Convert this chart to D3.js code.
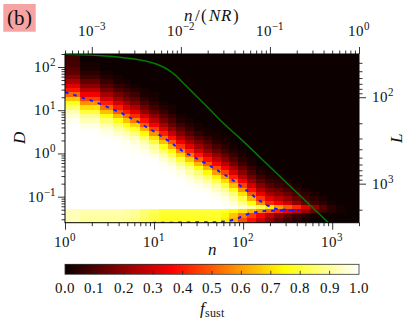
<!DOCTYPE html>
<html><head><meta charset="utf-8">
<script src="https://cdn.jsdelivr.net/npm/d3@7"></script>
<style>
@font-face{font-family:'PlotSerif';font-style:normal;src:local('Liberation Serif'),local('LiberationSerif'),local('LiberationSerif-Regular'),local('DejaVu Serif'),local('DejaVuSerif');}
@font-face{font-family:'PlotSerif';font-style:italic;src:local('Liberation Serif Italic'),local('LiberationSerif-Italic'),local('DejaVu Serif Italic'),local('DejaVuSerif-Italic');}
body{margin:0;background:#fff;}
svg text{font-family:'PlotSerif','Liberation Serif','Tinos','Times New Roman','DejaVu Serif',serif;fill:#111;}
</style></head><body>
<svg id="chart" width="416" height="333"></svg>
<script>
// ---------------- data ----------------
const nValues = [1,2,3,4,5,6,8,10,13,16,20,25,32,40,50,63,79,100,126,158,200,251,316,398,501,631,794,1000,1259,1585];
// D row centres (top to bottom)
const dRowCenters = [177.8,141.3,112.2,89.1,70.8,56.2,44.7,35.5,28.2,22.4,17.8,14.1,11.2,8.91,7.08,5.62,4.47,3.55,2.82,2.24,
  1.78,1.41,1.12,0.891,0.708,0.562,0.447,0.355,0.282,0.224,0.178,0.141,0.112,0.0891,0.0708,0.0562,0.0447,0.0355,0.0282];
// f_sust in percent, one array per n column, rows from top (large D) to bottom (small D)
const fSustByN = [
 [8,8,9,11,13,18,24,32,40,52, 66,78,86,92,96,98,100,100,100,100, 100,100,100,100,100,100,100,100,100,100, 100,100,100,100,100,100,93,93,93],
 [0,1,2,3,5,8,13,19,26,35, 46,58,70,81,89,93,97,99,100,100, 100,100,100,100,100,100,100,100,100,100, 100,100,100,100,100,100,92,91,90],
 [0,0,0,1,2,4,7,11,16,23, 31,41,53,65,77,86,92,96,98,99, 100,100,100,100,100,100,100,100,100,100, 100,100,100,100,100,100,92,91,90],
 [0,0,0,0,1,2,3,6,10,16, 22,30,40,51,64,76,86,91,95,98, 99,100,100,100,100,100,100,100,100,100, 100,100,100,100,100,100,92,91,90],
 [0,0,0,0,0,1,2,4,7,11, 16,23,31,41,53,65,77,86,92,96, 98,99,100,100,100,100,100,100,100,100, 100,100,100,100,100,100,91,90,89],
 [0,0,0,0,0,0,1,2,4,8, 12,17,24,33,43,55,68,79,87,93, 96,98,99,100,100,100,100,100,100,100, 100,100,100,100,100,100,90,89,88],
 [0,0,0,0,0,0,0,1,2,3, 6,10,15,21,29,39,50,63,75,85, 91,95,98,99,100,100,100,100,100,100, 100,100,100,100,100,100,86,85,84],
 [0,0,0,0,0,0,0,0,1,2, 3,5,8,13,19,26,35,46,58,70, 81,89,93,97,99,100,100,100,100,100, 100,100,100,100,100,100,83,82,81],
 [0,0,0,0,0,0,0,0,0,0, 1,2,4,7,11,16,23,31,41,53, 65,77,86,92,96,98,99,100,100,100, 100,100,100,100,100,100,80,79,78],
 [0,0,0,0,0,0,0,0,0,0, 0,1,2,3,6,10,14,20,28,38, 49,62,74,84,90,95,98,99,100,100, 100,100,100,100,100,100,80,79,78],
 [0,0,0,0,0,0,0,0,0,0, 0,0,0,1,2,4,8,12,18,25, 34,44,57,69,80,88,93,97,99,100, 100,100,100,100,100,100,80,79,78],
 [0,0,0,0,0,0,0,0,0,0, 0,0,0,0,1,2,4,7,11,17, 23,32,42,54,67,78,87,92,96,98, 99,100,100,100,100,100,80,79,78],
 [0,0,0,0,0,0,0,0,0,0, 0,0,0,0,0,1,2,3,6,10, 16,22,30,40,51,64,76,86,91,95, 98,99,100,100,100,100,80,79,78],
 [0,0,0,0,0,0,0,0,0,0, 0,0,0,0,0,0,1,2,3,6, 10,15,21,29,39,50,63,75,85,91, 95,98,99,100,100,100,80,79,78],
 [0,0,0,0,0,0,0,0,0,0, 0,0,0,0,0,0,0,1,2,3, 5,9,14,20,27,37,48,60,73,83, 90,94,97,99,100,100,80,79,78],
 [0,0,0,0,0,0,0,0,0,0, 0,0,0,0,0,0,0,0,1,2, 3,5,8,13,19,26,35,46,58,70, 81,89,93,97,99,100,78,74,72],
 [0,0,0,0,0,0,0,0,0,0, 0,0,0,0,0,0,0,0,0,0, 1,2,4,7,11,16,23,31,41,53, 65,77,86,92,96,98,74,66,62],
 [0,0,0,0,0,0,0,0,0,0, 0,0,0,0,0,0,0,0,0,0, 0,1,2,3,5,8,13,19,26,35, 46,58,70,81,89,95,70,55,48],
 [0,0,0,0,0,0,0,0,0,0, 0,0,0,0,0,0,0,0,0,0, 0,0,0,1,2,3,6,10,15,21, 29,39,50,63,75,90,64,45,38],
 [0,0,0,0,0,0,0,0,0,0, 0,0,0,0,0,0,0,0,0,0, 0,0,0,0,0,1,2,4,8,12, 18,25,34,44,57,82,58,36,28],
 [0,0,0,0,0,0,0,0,0,0, 0,0,0,0,0,0,0,0,0,0, 0,0,0,0,0,0,1,2,4,7, 11,17,23,32,42,72,50,27,20],
 [0,0,0,0,0,0,0,0,0,0, 0,0,0,0,0,0,0,0,0,0, 0,0,0,0,0,0,0,1,3,5, 8,13,19,26,36,60,42,19,13],
 [0,0,0,0,0,0,0,0,0,0, 0,0,0,0,0,0,0,0,0,0, 0,0,0,0,0,0,0,0,1,3, 5,9,14,20,28,50,36,12,8],
 [0,0,0,0,0,0,0,0,0,0, 0,0,0,0,0,0,0,0,0,0, 0,0,0,0,0,0,0,0,0,1, 3,5,9,14,20,42,30,7,5],
 [0,0,0,0,0,0,0,0,0,0, 0,0,0,0,0,0,0,0,0,0, 0,0,0,0,0,0,0,0,0,0, 1,3,5,8,13,32,22,4,3],
 [0,0,0,0,0,0,0,0,0,0, 0,0,0,0,0,0,0,0,0,0, 0,0,0,0,0,0,0,0,0,0, 0,1,3,5,8,20,14,2,1],
 [0,0,0,0,0,0,0,0,0,0, 0,0,0,0,0,0,0,0,0,0, 0,0,0,0,0,0,0,0,0,0, 0,0,1,3,5,11,8,1,0],
 [0,0,0,0,0,0,0,0,0,0, 0,0,0,0,0,0,0,0,0,0, 0,0,0,0,0,0,0,0,0,0, 0,0,0,1,2,5,4,0,0],
 [0,0,0,0,0,0,0,0,0,0, 0,0,0,0,0,0,0,0,0,0, 0,0,0,0,0,0,0,0,0,0, 0,0,0,0,0,2,2,0,0],
 [0,0,0,0,0,0,0,0,0,0, 0,0,0,0,0,0,0,0,0,0, 0,0,0,0,0,0,0,0,0,0, 0,0,0,0,0,1,1,0,0]
];
// green curve (n, D)
const greenN = [1,2.19,5.19,7.97,11.3,14.6,17.3,22.4,29,44.8,55,92.5,218,905];
const greenD = [197,187,159,138,111,85,65,38.3,22.5,9.2,5.93,2.23,0.413,0.025];
// blue dashed curve (n, D)
const blueN = [1,1.26,1.63,2.13,2.76,3.55,4.15,4.84,5.63,6.4,7.4,8.6,10.1,11.7,14.5,18.0,22.3,25.7,29.3,35.2,42.5,52.8,65.6,81.5,101,125,151,187,239,297,366,437,
               366,271,210,155,120,96.5,85,68,50.6,39,22.3,11.7,9];
const blueD = [26.2,22.7,19.0,15.9,12.8,10.2,9.0,7.5,6.4,5.6,4.7,3.8,3.2,2.6,1.96,1.42,1.03,0.91,0.79,0.64,0.515,0.394,0.301,0.219,0.158,0.113,0.082,0.0628,0.0515,0.0499,0.048,0.048,
               0.0478,0.048,0.0472,0.0455,0.0416,0.0348,0.0308,0.0271,0.0257,0.0257,0.0252,0.0249,0.0246];
const nDomain = [1, 2000];
const dDomain = [0.025, 200];
const NR = 2000;
const lDomain = [31.62, 2828];
const xMajor = [1,10,100,1000];
const dMajor = [0.1,1,10,100];
const topMajor = [1e-3,1e-2,1e-1,1];
const lMajor = [100,1000];
const cbTicks = [0,0.1,0.2,0.3,0.4,0.5,0.6,0.7,0.8,0.9,1.0];

// ---------------- layout ----------------
const svg = d3.select('#chart');
const P = {l:65, r:359, t:54, b:222.7};
const x = d3.scaleLog().domain(nDomain).range([P.l, P.r]);
const y = d3.scaleLog().domain(dDomain).range([P.b, P.t]);
const xTop = d3.scaleLog().domain([nDomain[0]/NR, nDomain[1]/NR]).range([P.l, P.r]);
const yR = d3.scaleLog().domain(lDomain).range([P.t, P.b]);

function hot(f){
  const r = Math.min(1, 0.0416 + f*(1-0.0416)/0.365079);
  const g = Math.max(0, Math.min(1, (f-0.365079)/(0.746032-0.365079)));
  const b = Math.max(0, Math.min(1, (f-0.746032)/(1-0.746032)));
  return d3.rgb(r*255, g*255, b*255).toString();
}
function minorsFor(domain){
  const out=[];
  for(let e=-6;e<=6;e++){for(let m=2;m<=9;m++){const v=m*Math.pow(10,e);
    if(v>=domain[0]*0.999 && v<=domain[1]*1.001) out.push(v);}}
  return out;
}

const defs = svg.append('defs');
defs.append('clipPath').attr('id','clip')
  .append('rect').attr('x',P.l).attr('y',P.t).attr('width',P.r-P.l).attr('height',P.b-P.t);
defs.append('filter').attr('id','soft').attr('x',-0.05).attr('y',-0.05).attr('width',1.1).attr('height',1.1)
  .append('feGaussianBlur').attr('stdDeviation',0.5);

// heatmap cell edges (extended a little past the axes so the soft edge is clipped)
const nEdges = [nDomain[0]*0.97];
for(let i=0;i<nValues.length-1;i++) nEdges.push((nValues[i]+nValues[i+1])/2);
nEdges.push(nDomain[1]*1.05);
const dEdges = [dRowCenters[0]*Math.sqrt(dRowCenters[0]/dRowCenters[1])];
for(let j=0;j<dRowCenters.length-1;j++) dEdges.push(Math.sqrt(dRowCenters[j]*dRowCenters[j+1]));
dEdges.push(dDomain[0]*0.95);

const cells=[];
fSustByN.forEach((col,i)=>col.forEach((v,j)=>cells.push({i,j,v})));
const hmOuter = svg.append('g').attr('clip-path','url(#clip)');
const hm = hmOuter.append('g').attr('filter','url(#soft)');
hm.selectAll('rect').data(cells).join('rect')
  .attr('x',d=>Math.floor(x(nEdges[d.i])))
  .attr('width',d=>Math.ceil(x(nEdges[d.i+1]))-Math.floor(x(nEdges[d.i]))+1)
  .attr('y',d=>Math.floor(y(dEdges[d.j])))
  .attr('height',d=>Math.ceil(y(dEdges[d.j+1]))-Math.floor(y(dEdges[d.j]))+1)
  .attr('fill',d=>hot(d.v/100)).attr('shape-rendering','crispEdges');

// curves
const lines = svg.append('g').attr('clip-path','url(#clip)');
const gLine = d3.line().x(d=>x(d[0])).y(d=>y(d[1])).curve(d3.curveMonotoneX);
lines.append('path').datum(greenN.map((n,k)=>[n,greenD[k]]))
  .attr('d',gLine).attr('fill','none').attr('stroke','#007a00').attr('stroke-width',1.5);
const bLine = d3.line().x(d=>x(d[0])).y(d=>y(d[1]));
lines.append('path').datum(blueN.map((n,k)=>[n,blueD[k]]))
  .attr('d',bLine).attr('fill','none').attr('stroke','#1a1aff').attr('stroke-width',2)
  .attr('stroke-dasharray','3.6,5');

// frame
svg.append('rect').attr('x',P.l).attr('y',P.t).attr('width',P.r-P.l).attr('height',P.b-P.t)
  .attr('fill','none').attr('stroke','#000').attr('stroke-width',1);

// axes ticks
function ticks(axisFn, scale, vals, size, tr){
  const g = svg.append('g').attr('transform',tr)
    .call(axisFn(scale).tickValues(vals).tickSize(size).tickSizeOuter(0).tickFormat(''));
  g.select('.domain').remove();
  g.selectAll('line').attr('stroke','#000').attr('stroke-width',0.8);
}
ticks(d3.axisBottom, x, xMajor, 7, `translate(0,${P.b})`);
ticks(d3.axisBottom, x, minorsFor(nDomain), 3.5, `translate(0,${P.b})`);
ticks(d3.axisLeft, y, dMajor, 7, `translate(${P.l},0)`);
ticks(d3.axisLeft, y, minorsFor(dDomain), 3.5, `translate(${P.l},0)`);
ticks(d3.axisTop, xTop, topMajor, 7, `translate(0,${P.t})`);
ticks(d3.axisTop, xTop, minorsFor(xTop.domain()), 3.5, `translate(0,${P.t})`);
ticks(d3.axisRight, yR, lMajor, 7, `translate(${P.r},0)`);
ticks(d3.axisRight, yR, minorsFor(lDomain), 3.5, `translate(${P.r},0)`);

function powLabel(px, py, v, anchor){
  const e = Math.round(Math.log10(v));
  const t = svg.append('text').attr('x',px).attr('y',py).attr('text-anchor',anchor).attr('font-size',15);
  t.append('tspan').text('10');
  t.append('tspan').attr('dy',-6).attr('font-size',10.5).text(e<0?'\u2212'+(-e):String(e));
}
xMajor.forEach(v=>powLabel(x(v), 247, v, 'middle'));
dMajor.forEach(v=>powLabel(56, y(v)+5, v, 'end'));
topMajor.forEach(v=>powLabel(xTop(v), 36, v, 'middle'));
lMajor.forEach(v=>powLabel(372, yR(v)+5, v, 'start'));

// axis titles
svg.append('text').attr('x',212).attr('y',255).attr('text-anchor','middle')
  .attr('font-size',17).attr('font-style','italic').text('n');
svg.append('text').attr('transform','translate(25,138) rotate(-90)').attr('text-anchor','middle')
  .attr('font-size',17).attr('font-style','italic').text('D');
svg.append('text').attr('transform','translate(402,138) rotate(-90)').attr('text-anchor','middle')
  .attr('font-size',17).attr('font-style','italic').text('L');
const tt = svg.append('text').attr('x',212).attr('y',21).attr('text-anchor','middle')
  .attr('font-size',17).attr('letter-spacing',1.5);
tt.append('tspan').attr('font-style','italic').text('n');
tt.append('tspan').text('/(');
tt.append('tspan').attr('font-style','italic').text('NR');
tt.append('tspan').text(')');

// panel tag
svg.append('rect').attr('x',3.3).attr('y',4).attr('width',32.4).attr('height',27.7).attr('fill','#f6a3a3');
svg.append('text').attr('x',19.5).attr('y',24.5).attr('text-anchor','middle').attr('font-size',21).text('(b)');

// colorbar
const cb = {x0:65, x1:359, y:264.3, h:10};
const cx = d3.scaleLinear().domain([0,1]).range([cb.x0, cb.x1]);
const steps = d3.range(0,200).map(k=>k/200);
svg.append('g').selectAll('rect').data(steps).join('rect')
  .attr('x',d=>cx(d)).attr('width',cx(1/200)-cx(0)+0.3).attr('y',cb.y).attr('height',cb.h)
  .attr('fill',d=>hot(d+0.0025)).attr('shape-rendering','crispEdges');
svg.append('rect').attr('x',cb.x0).attr('y',cb.y).attr('width',cb.x1-cb.x0).attr('height',cb.h)
  .attr('fill','none').attr('stroke','#333').attr('stroke-width',0.8);
svg.append('g').selectAll('line').data(cbTicks.slice(1,-1)).join('line')
  .attr('x1',d=>cx(d)).attr('x2',d=>cx(d)).attr('y1',cb.y+cb.h).attr('y2',cb.y+cb.h-3.5)
  .attr('stroke','#222').attr('stroke-width',0.8);
svg.append('g').selectAll('text').data(cbTicks).join('text')
  .attr('x',d=>cx(d)).attr('y',292.7).attr('text-anchor','middle').attr('font-size',15)
  .text(d=>d.toFixed(1));
const fl = svg.append('text').attr('x',212).attr('y',314).attr('text-anchor','middle').attr('font-size',17);
fl.append('tspan').attr('font-style','italic').text('f');
fl.append('tspan').attr('font-size',12).attr('dy',3).text('sust');
</script>
</body></html>
